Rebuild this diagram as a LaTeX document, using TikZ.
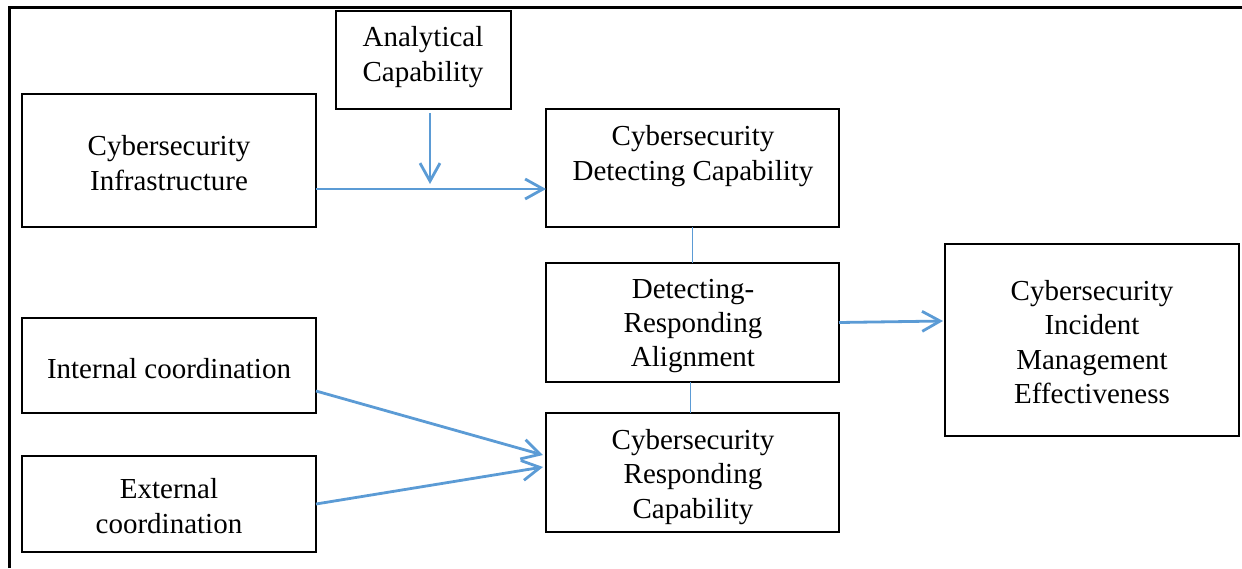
\documentclass[tikz,border=0pt]{standalone}
\usepackage{fontspec}
\setmainfont{Liberation Serif}
\usetikzlibrary{arrows.meta}
\definecolor{arrowblue}{HTML}{5B9BD5}
\begin{document}
\begin{tikzpicture}[x=0.5pt,y=-0.5pt,
  box/.style={draw=black,line width=1pt,inner sep=0pt,outer sep=0pt},
  txt/.style={align=center,inner sep=0pt,font=\fontsize{14.5}{17.2}\selectfont},
  flow/.style={draw=arrowblue,line width=1.4pt,-{Straight Barb[length=9pt,width=10pt,line width=1.4pt]}},
  thin/.style={draw=arrowblue,line width=0.5pt}]
\useasboundingbox (0,0) rectangle (1242,568);
\draw[line width=1.5pt] (9.5,568) -- (9.5,7.5) -- (1242,7.5);
% boxes
\node[box,minimum width=87.5pt,minimum height=49pt] (anal) at (423.5,60) {};
\node[box,minimum width=147pt,minimum height=66.5pt] (infra) at (169,160.5) {};
\node[box,minimum width=146.5pt,minimum height=59pt] (det) at (692.5,168) {};
\node[box,minimum width=146.5pt,minimum height=59.5pt] (align) at (692.5,322.5) {};
\node[box,minimum width=146.5pt,minimum height=59.5pt] (resp) at (692.5,472.5) {};
\node[box,minimum width=147pt,minimum height=96pt] (eff) at (1092,340) {};
\node[box,minimum width=147pt,minimum height=47.5pt] (int) at (169,365.5) {};
\node[box,minimum width=147pt,minimum height=48pt] (ext) at (169,504) {};
% texts
\node[txt] (analT) at (423,57) {Analytical\\Capability};
\node[txt] (infraT) at (169,163) {Cybersecurity\\Infrastructure};
\node[txt] (detT) at (693,156) {Cybersecurity\\Detecting Capability};
\node[txt] (alignT) at (693,326) {Detecting-\\Responding\\Alignment};
\node[txt] (respT) at (693,477) {Cybersecurity\\Responding\\Capability};
\node[txt] (effT) at (1092,342) {Cybersecurity\\Incident\\Management\\Effectiveness};
\node[txt] (intT) at (169,369) {Internal coordination};
\node[txt] (extT) at (169,506) {External\\coordination};
% connectors
\draw[flow] ([yshift=-14.25pt]infra.east) -- ([yshift=-10.5pt]det.west);
\draw[flow] ([xshift=3.25pt,yshift=-2pt]anal.south) -- ++(0,71);
\draw[flow] (align.east) -- ([yshift=9.5pt,xshift=-1pt]eff.west);
\draw[thin] (det.south) -- (align.north);
\draw[thin] ([xshift=-1.25pt]align.south) -- ([xshift=-1.25pt]resp.north);
\draw[flow] ([yshift=-12.75pt]int.east) -- ([yshift=8.75pt,xshift=-1.5pt]resp.west);
\draw[flow] (ext.east) -- ([yshift=2.75pt,xshift=-1.5pt]resp.west);
\end{tikzpicture}
\end{document}
